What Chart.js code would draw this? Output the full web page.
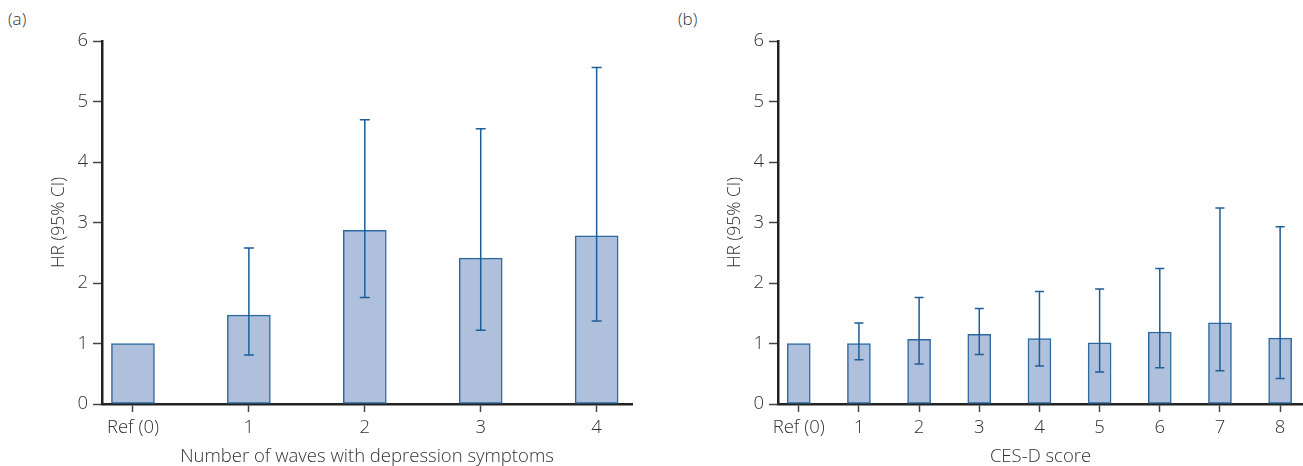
<!DOCTYPE html>
<html>
<head>
<meta charset="utf-8">
<script src="https://cdn.jsdelivr.net/npm/chart.js@4/dist/chart.umd.min.js"></script>
<style>
    html, body { margin: 0; padding: 0; background: #fff; }
    body { width: 1303px; height: 466px; position: relative; overflow: hidden;
           font-family: "Open Sans", sans-serif; color: #333; }
    .panel { position: absolute; top: 0; height: 466px; }
    .tag { position: absolute; top: 7px; font-size: 17px; font-weight: 300; }
</style>
</head>
<body>
<div class="tag" style="left:8px">(a)</div>
<div class="tag" style="left:678px">(b)</div>
<div class="panel" style="left:0;width:650px"><canvas id="waveChart"></canvas></div>
<div class="panel" style="left:650px;width:653px"><canvas id="cesdChart"></canvas></div>
<script>
// panel (a): number of waves with depression symptoms
const waveLabels = ['Ref (0)', '1', '2', '3', '4'];
const waveHR     = [1.0, 1.47, 2.87, 2.41, 2.78];
const waveLow    = [null, 0.81, 1.76, 1.22, 1.37];
const waveHigh   = [null, 2.58, 4.70, 4.55, 5.56];

// panel (b): CES-D score
const cesdLabels = ['Ref (0)', '1', '2', '3', '4', '5', '6', '7', '8'];
const cesdHR     = [1.0, 1.0, 1.07, 1.15, 1.08, 1.01, 1.19, 1.34, 1.09];
const cesdLow    = [null, 0.73, 0.66, 0.82, 0.63, 0.53, 0.60, 0.55, 0.42];
const cesdHigh   = [null, 1.34, 1.76, 1.58, 1.86, 1.90, 2.24, 3.24, 2.93];

const yTicks = [0, 1, 2, 3, 4, 5, 6];

const FONT = "'Open Sans', sans-serif";
const TEXT = '#333';
const AXIS = '#222';
const BAR_FILL = '#aec0dc';
const BAR_EDGE = '#2e6aa2';
const ERR = '#1d5d98';

// error bars (95% CI) drawn over the bars
const errorBars = {
    id: 'errorBars',
    afterDatasetsDraw(chart, args, opts) {
        const { ctx } = chart;
        const xs = chart.scales.x, ys = chart.scales.y;
        ctx.save();
        ctx.strokeStyle = ERR;
        ctx.lineWidth = 1.5;
        opts.low.forEach((lo, i) => {
            const hi = opts.high[i];
            if (lo == null || hi == null) return;
            const x = xs.getPixelForValue(i);
            const y1 = ys.getPixelForValue(lo);
            const y2 = ys.getPixelForValue(hi);
            const c = opts.cap / 2;
            ctx.beginPath();
            ctx.moveTo(x, y1); ctx.lineTo(x, y2);
            ctx.moveTo(x - c, y1); ctx.lineTo(x + c, y1);
            ctx.moveTo(x - c, y2); ctx.lineTo(x + c, y2);
            ctx.stroke();
        });
        ctx.restore();
    }
};

function makeChart(id, cfg) {
    const n = cfg.labels.length;
    return new Chart(document.getElementById(id), {
        type: 'bar',
        data: {
            datasets: [{
                data: cfg.values.map((v, i) => ({ x: i, y: v })),
                backgroundColor: BAR_FILL,
                borderColor: BAR_EDGE,
                borderWidth: 1.5,
                borderSkipped: false,
                barThickness: cfg.barWidth
            }]
        },
        options: {
            responsive: true,
            maintainAspectRatio: false,
            animation: false,
            events: [],
            layout: { padding: { top: cfg.top, right: cfg.right, left: 0, bottom: 0 } },
            plugins: {
                legend: { display: false },
                tooltip: { enabled: false },
                errorBars: { low: cfg.low, high: cfg.high, cap: cfg.cap }
            },
            scales: {
                x: {
                    type: 'linear',
                    min: cfg.xMin,
                    max: n - 1 + cfg.xPadEnd,
                    offset: false,
                    afterBuildTicks: s => { s.ticks = cfg.labels.map((_, i) => ({ value: i })); },
                    afterFit: s => { s.height = 62; },
                    border: { color: AXIS, width: 2.5 },
                    grid: { offset: false, drawOnChartArea: false, drawTicks: true, tickLength: 8, tickWidth: 1.5, tickColor: '#444' },
                    ticks: {
                        autoSkip: false, maxRotation: 0, padding: 5, color: TEXT,
                        font: { family: FONT, size: 18.5, weight: '300' },
                        callback: v => cfg.labels[v]
                    },
                    title: {
                        display: true, text: cfg.xTitle, color: TEXT,
                        font: { family: FONT, size: 18.5, weight: '300', lineHeight: 1 },
                        padding: { top: 0, bottom: 0 }
                    }
                },
                y: {
                    min: 0, max: 6,
                    afterBuildTicks: s => { s.ticks = yTicks.map(v => ({ value: v })); },
                    afterFit: s => { s.width = cfg.yWidth; },
                    border: { color: AXIS, width: 2.5 },
                    grid: { drawOnChartArea: false, drawTicks: true, tickLength: 9, tickWidth: 1.5, tickColor: '#444' },
                    ticks: {
                        padding: 5, color: TEXT,
                        font: { family: FONT, size: 18.5, weight: '300' }
                    },
                    title: {
                        display: true, text: 'HR (95% CI)', color: TEXT,
                        font: { family: FONT, size: 17.5, weight: '300' },
                        padding: { top: cfg.yTitlePad, bottom: 0 }
                    }
                }
            }
        },
        plugins: [errorBars]
    });
}

makeChart('waveChart', {
    labels: waveLabels, values: waveHR, low: waveLow, high: waveHigh,
    xTitle: 'Number of waves with depression symptoms',
    barWidth: 43, cap: 10, xMin: -0.267, xPadEnd: 0.305,
    yWidth: 102, yTitlePad: 49, top: 41, right: 18
});

makeChart('cesdChart', {
    labels: cesdLabels, values: cesdHR, low: cesdLow, high: cesdHigh,
    xTitle: 'CES-D score',
    barWidth: 23, cap: 9, xMin: -0.345, xPadEnd: 0.38,
    yWidth: 128, yTitlePad: 75, top: 41, right: 0
});
</script>
</body>
</html>
